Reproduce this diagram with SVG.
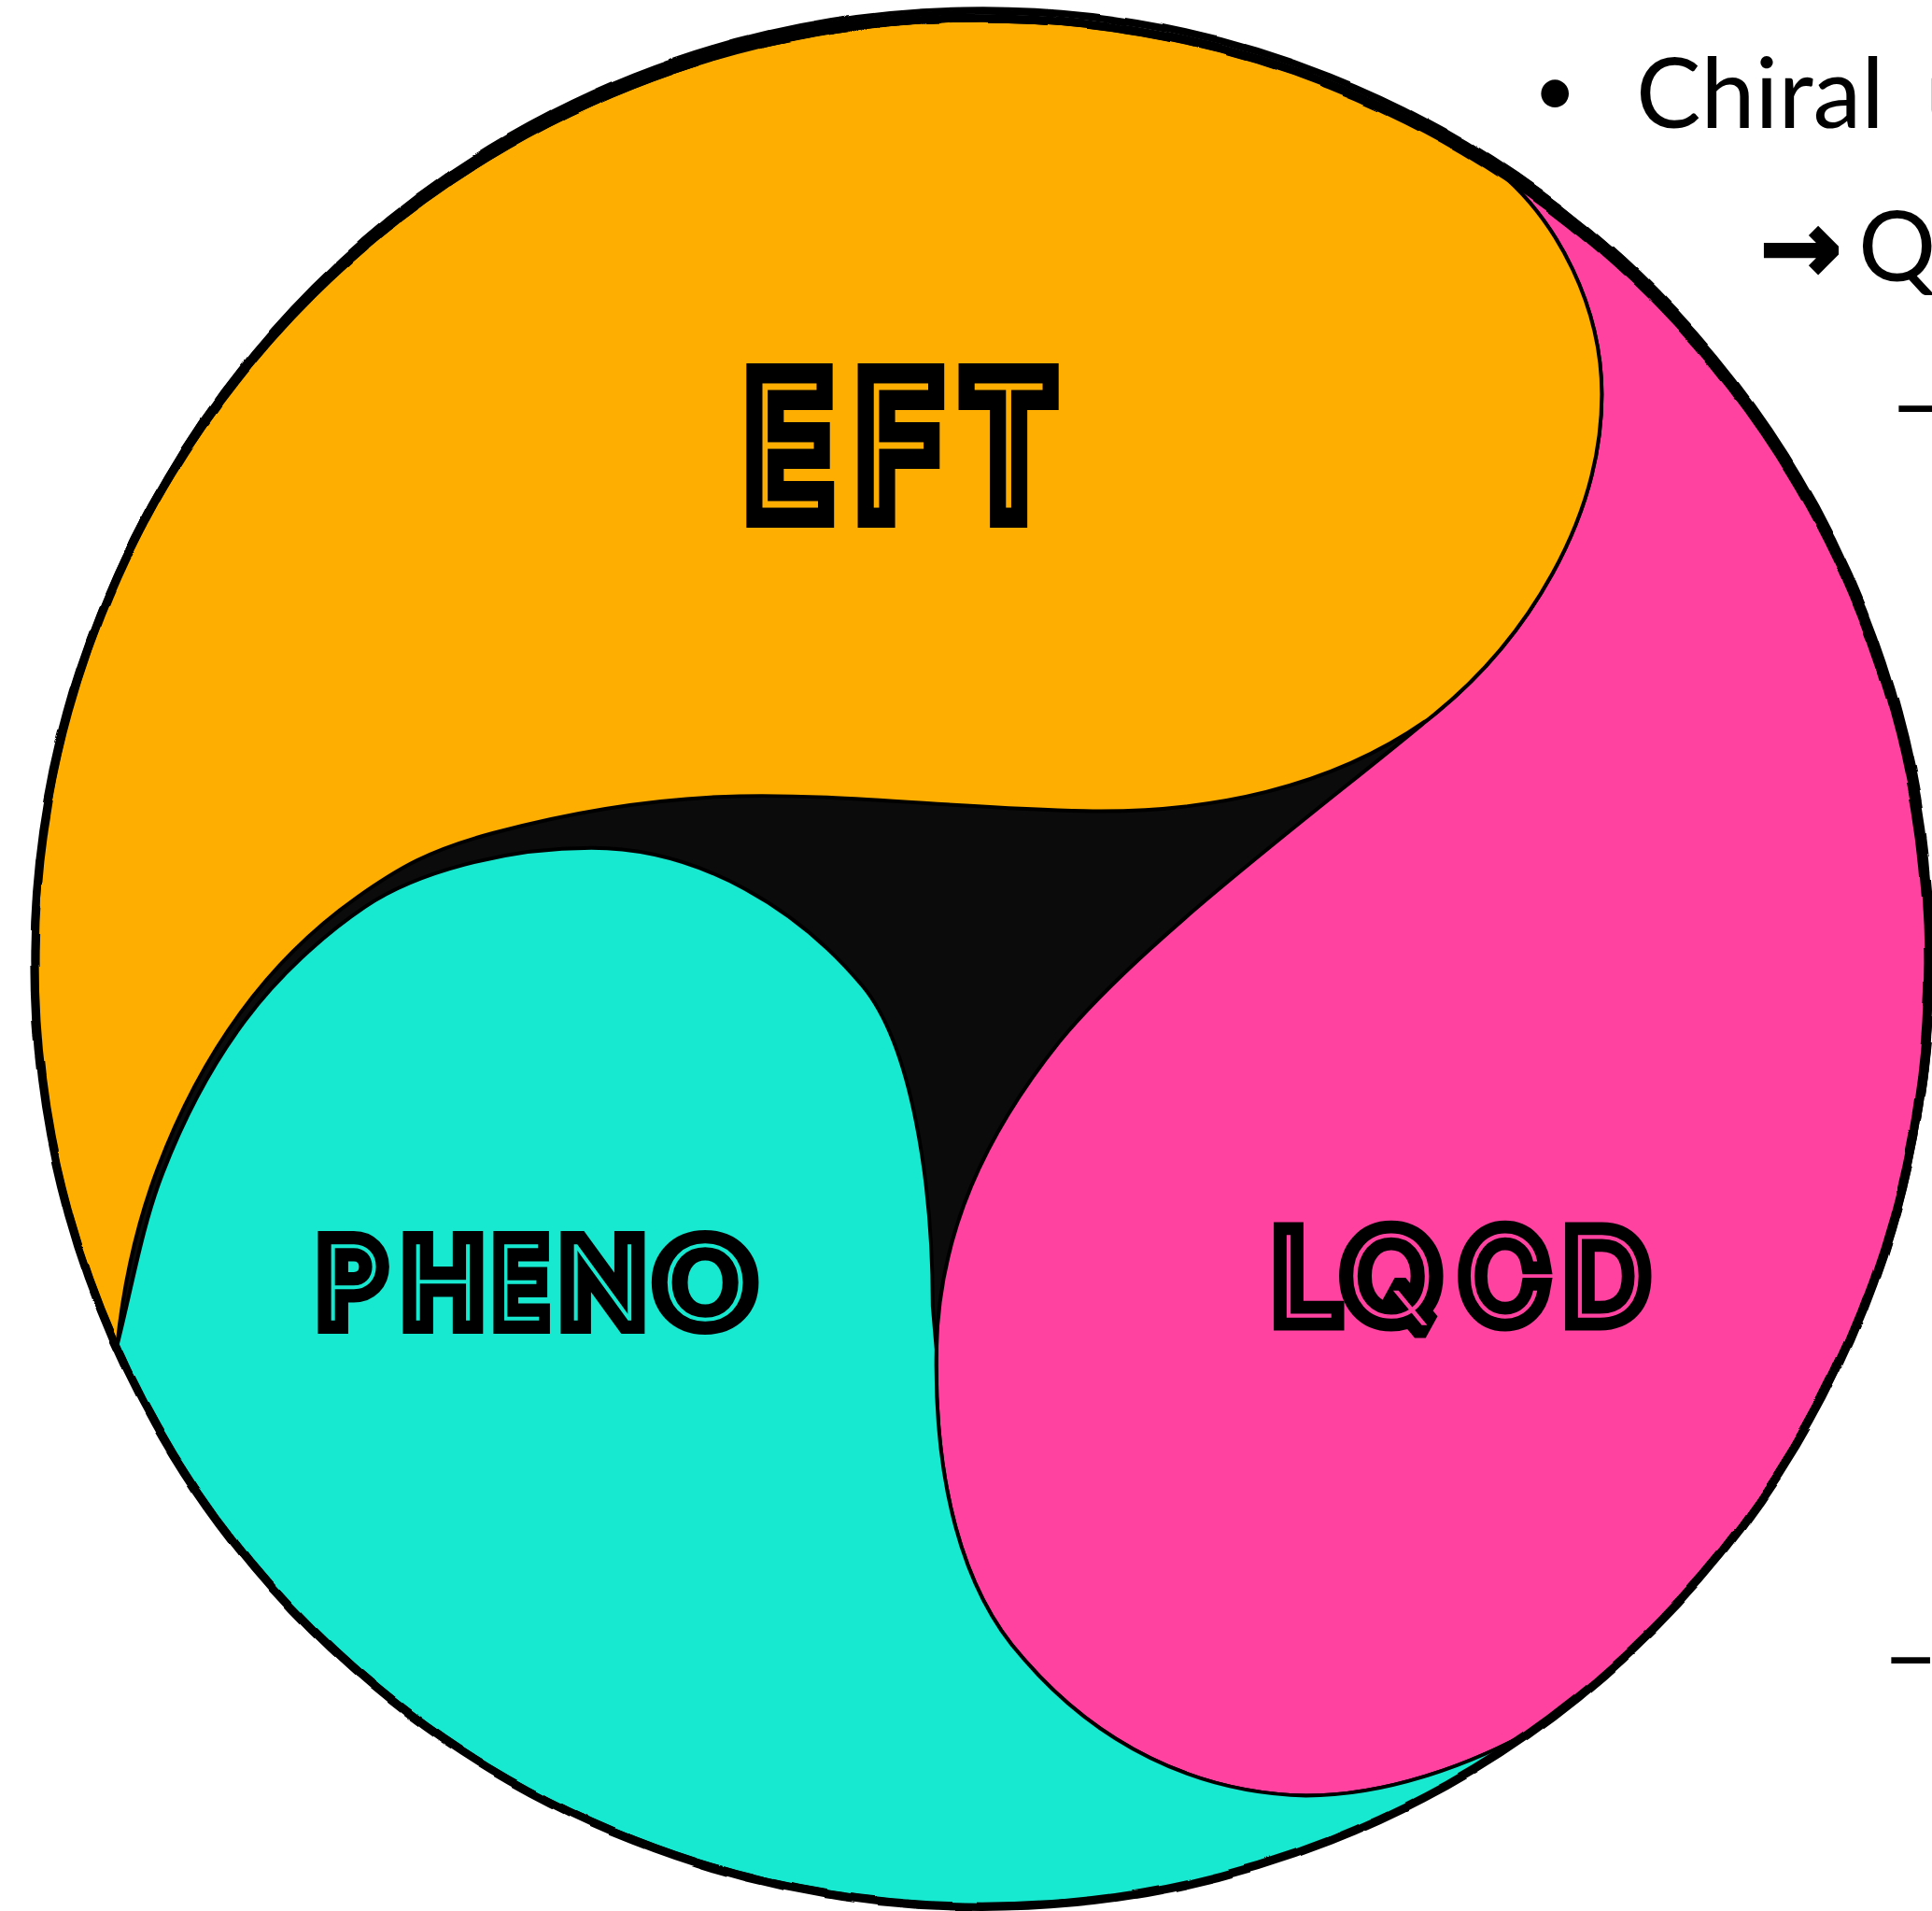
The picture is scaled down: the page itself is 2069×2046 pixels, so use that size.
<svg xmlns="http://www.w3.org/2000/svg" width="2069" height="2046" viewBox="0 0 2069 2046">
  <style>
    .edge { stroke:#000; stroke-width:3; stroke-linejoin:round; }
    .rim { fill:none; stroke:#000; }
    .ink { fill:#000; stroke:#000; stroke-linejoin:miter; stroke-miterlimit:2; }
    .inline { font-family:Inter, Lato, "DejaVu Sans", sans-serif; font-weight:100; }
    .slide { font-family:Lato, "Open Sans", sans-serif; fill:#000; }
  </style>
  <defs>
    <filter id="wobble" x="-5%" y="-5%" width="110%" height="110%">
      <feTurbulence type="fractalNoise" baseFrequency="0.012" numOctaves="2" seed="7"/>
      <feDisplacementMap in="SourceGraphic" scale="5" xChannelSelector="R" yChannelSelector="G"/>
    </filter>
  </defs>
  <rect width="2069" height="2046" fill="#fff"/>

  <!-- three-lobed disc, drawn in a 1568-wide frame and scaled up -->
  <g transform="scale(1.3195)">
    <ellipse id="core" cx="797" cy="781" rx="769" ry="766" fill="#0b0b0b"/>
    <g id="lobe-lqcd">
      <path class="edge" fill="#FF42A0" d="M 1216 139 A 769 766 0 0 1 1249 1401 C 1195 1432 1125 1457 1060 1457 C 970 1455 890 1415 830 1345 C 780 1290 758 1200 760 1095 C 762 1000 800 920 860 845 C 930 760 1080 650 1160 583 C 1240 520 1300 420 1300 320 C 1300 250 1265 180 1216 139 Z"/>
    </g>
    <g id="lobe-eft">
      <path class="edge" fill="#FDAE00" d="M 95 1092 A 769 766 0 0 1 1216 139 C 1265 180 1300 250 1300 320 C 1300 420 1240 520 1160 583 C 1080 640 980 660 880 658 C 780 656 680 644 600 646 C 520 648 452 662 400 676 C 348 690 324 704 290 728 C 256 752 222 785 195 822 C 168 859 145 903 128 948 C 111 993 100 1044 95 1092 Z"/>
    </g>
    <g id="lobe-pheno">
      <path class="edge" fill="#17E8D0" d="M 95 1092 C 107 1045 115 996 132 952 C 149 908 172 864 199 828 C 226 792 262 759 296 736 C 337 708 410 688 480 688 C 570 688 650 740 700 800 C 740 848 757 960 757 1060 L 760 1095 C 758 1200 780 1290 830 1345 C 890 1415 970 1455 1060 1457 C 1125 1457 1195 1432 1249 1401 A 769 766 0 0 1 95 1092 Z"/>
    </g>
    <!-- hand-drawn rim -->
    <g id="rim" filter="url(#wobble)">
      <ellipse class="rim" cx="797" cy="781" rx="769" ry="766" stroke-width="7"/>
      <ellipse class="rim" cx="798" cy="778" rx="770" ry="768" stroke-width="4"/>
      <ellipse class="rim" cx="796" cy="782" rx="767" ry="765" stroke-width="3"/>
      <ellipse class="rim" cx="797" cy="777" rx="768" ry="770" stroke-width="3"/>
    </g>
  </g>

  <!-- inline lettering: fat black body with a thin coloured core -->
  <g id="label-eft" class="inline" font-size="179">
    <g transform="scale(0.8,1)">
      <text class="ink" stroke-width="46" y="542"><tspan x="1002">E</tspan><tspan x="1151">F</tspan><tspan x="1295">T</tspan></text>
      <text fill="#FDAE00" stroke="#FDAE00" stroke-width="3" y="542"><tspan x="1002">E</tspan><tspan x="1151">F</tspan><tspan x="1295">T</tspan></text>
    </g>
  </g>
  <g id="label-pheno" class="inline" font-size="110">
    <text class="ink" stroke-width="30" y="1413"><tspan x="343">P</tspan><tspan x="434">H</tspan></text>
    <text fill="#17E8D0" stroke="#17E8D0" stroke-width="1.5" y="1413"><tspan x="343">P</tspan><tspan x="434">H</tspan></text>
    <g transform="translate(528,0) scale(0.82,1)">
      <text class="ink" stroke-width="30" x="3" y="1413">E</text>
      <text fill="#17E8D0" stroke="#17E8D0" stroke-width="1.5" x="3" y="1413">E</text>
    </g>
    <text class="ink" stroke-width="30" x="603" y="1413">N</text>
    <text fill="#17E8D0" stroke="#17E8D0" stroke-width="1.5" x="603" y="1413">N</text>
    <g transform="translate(699,0) scale(1.19,1)">
      <text class="ink" stroke-width="30" x="6" y="1413">O</text>
      <text fill="#17E8D0" stroke="#17E8D0" stroke-width="1.5" x="6" y="1413">O</text>
    </g>
  </g>
  <g id="label-lqcd" class="inline" font-size="120">
    <text class="ink" stroke-width="29" y="1410"><tspan x="1365">L</tspan><tspan x="1567">C</tspan><tspan x="1677">D</tspan></text>
    <text fill="#FF42A0" stroke="#FF42A0" stroke-width="1.5" y="1410"><tspan x="1365">L</tspan><tspan x="1567">C</tspan><tspan x="1677">D</tspan></text>
    <g transform="translate(1436,0) scale(1.1,1)">
      <text class="ink" stroke-width="29" x="4" y="1410">Q</text>
      <text fill="#FF42A0" stroke="#FF42A0" stroke-width="1.5" x="4" y="1410">Q</text>
    </g>
  </g>

  <!-- slide text at the right margin -->
  <g id="slide-text" class="slide" font-size="104">
    <text x="1642" y="124" font-size="80">•</text>
    <text x="1752" y="137">Chiral<tspan x="2062">u</tspan></text>
    <text y="301"><tspan x="1885" font-family="DejaVu Sans, sans-serif" font-weight="bold" stroke="#000" stroke-width="4" stroke-linejoin="miter">→</tspan><tspan x="1990">Q</tspan></text>
    <text x="2024" y="469">–</text>
    <text x="2016" y="1809">–</text>
  </g>
</svg>
